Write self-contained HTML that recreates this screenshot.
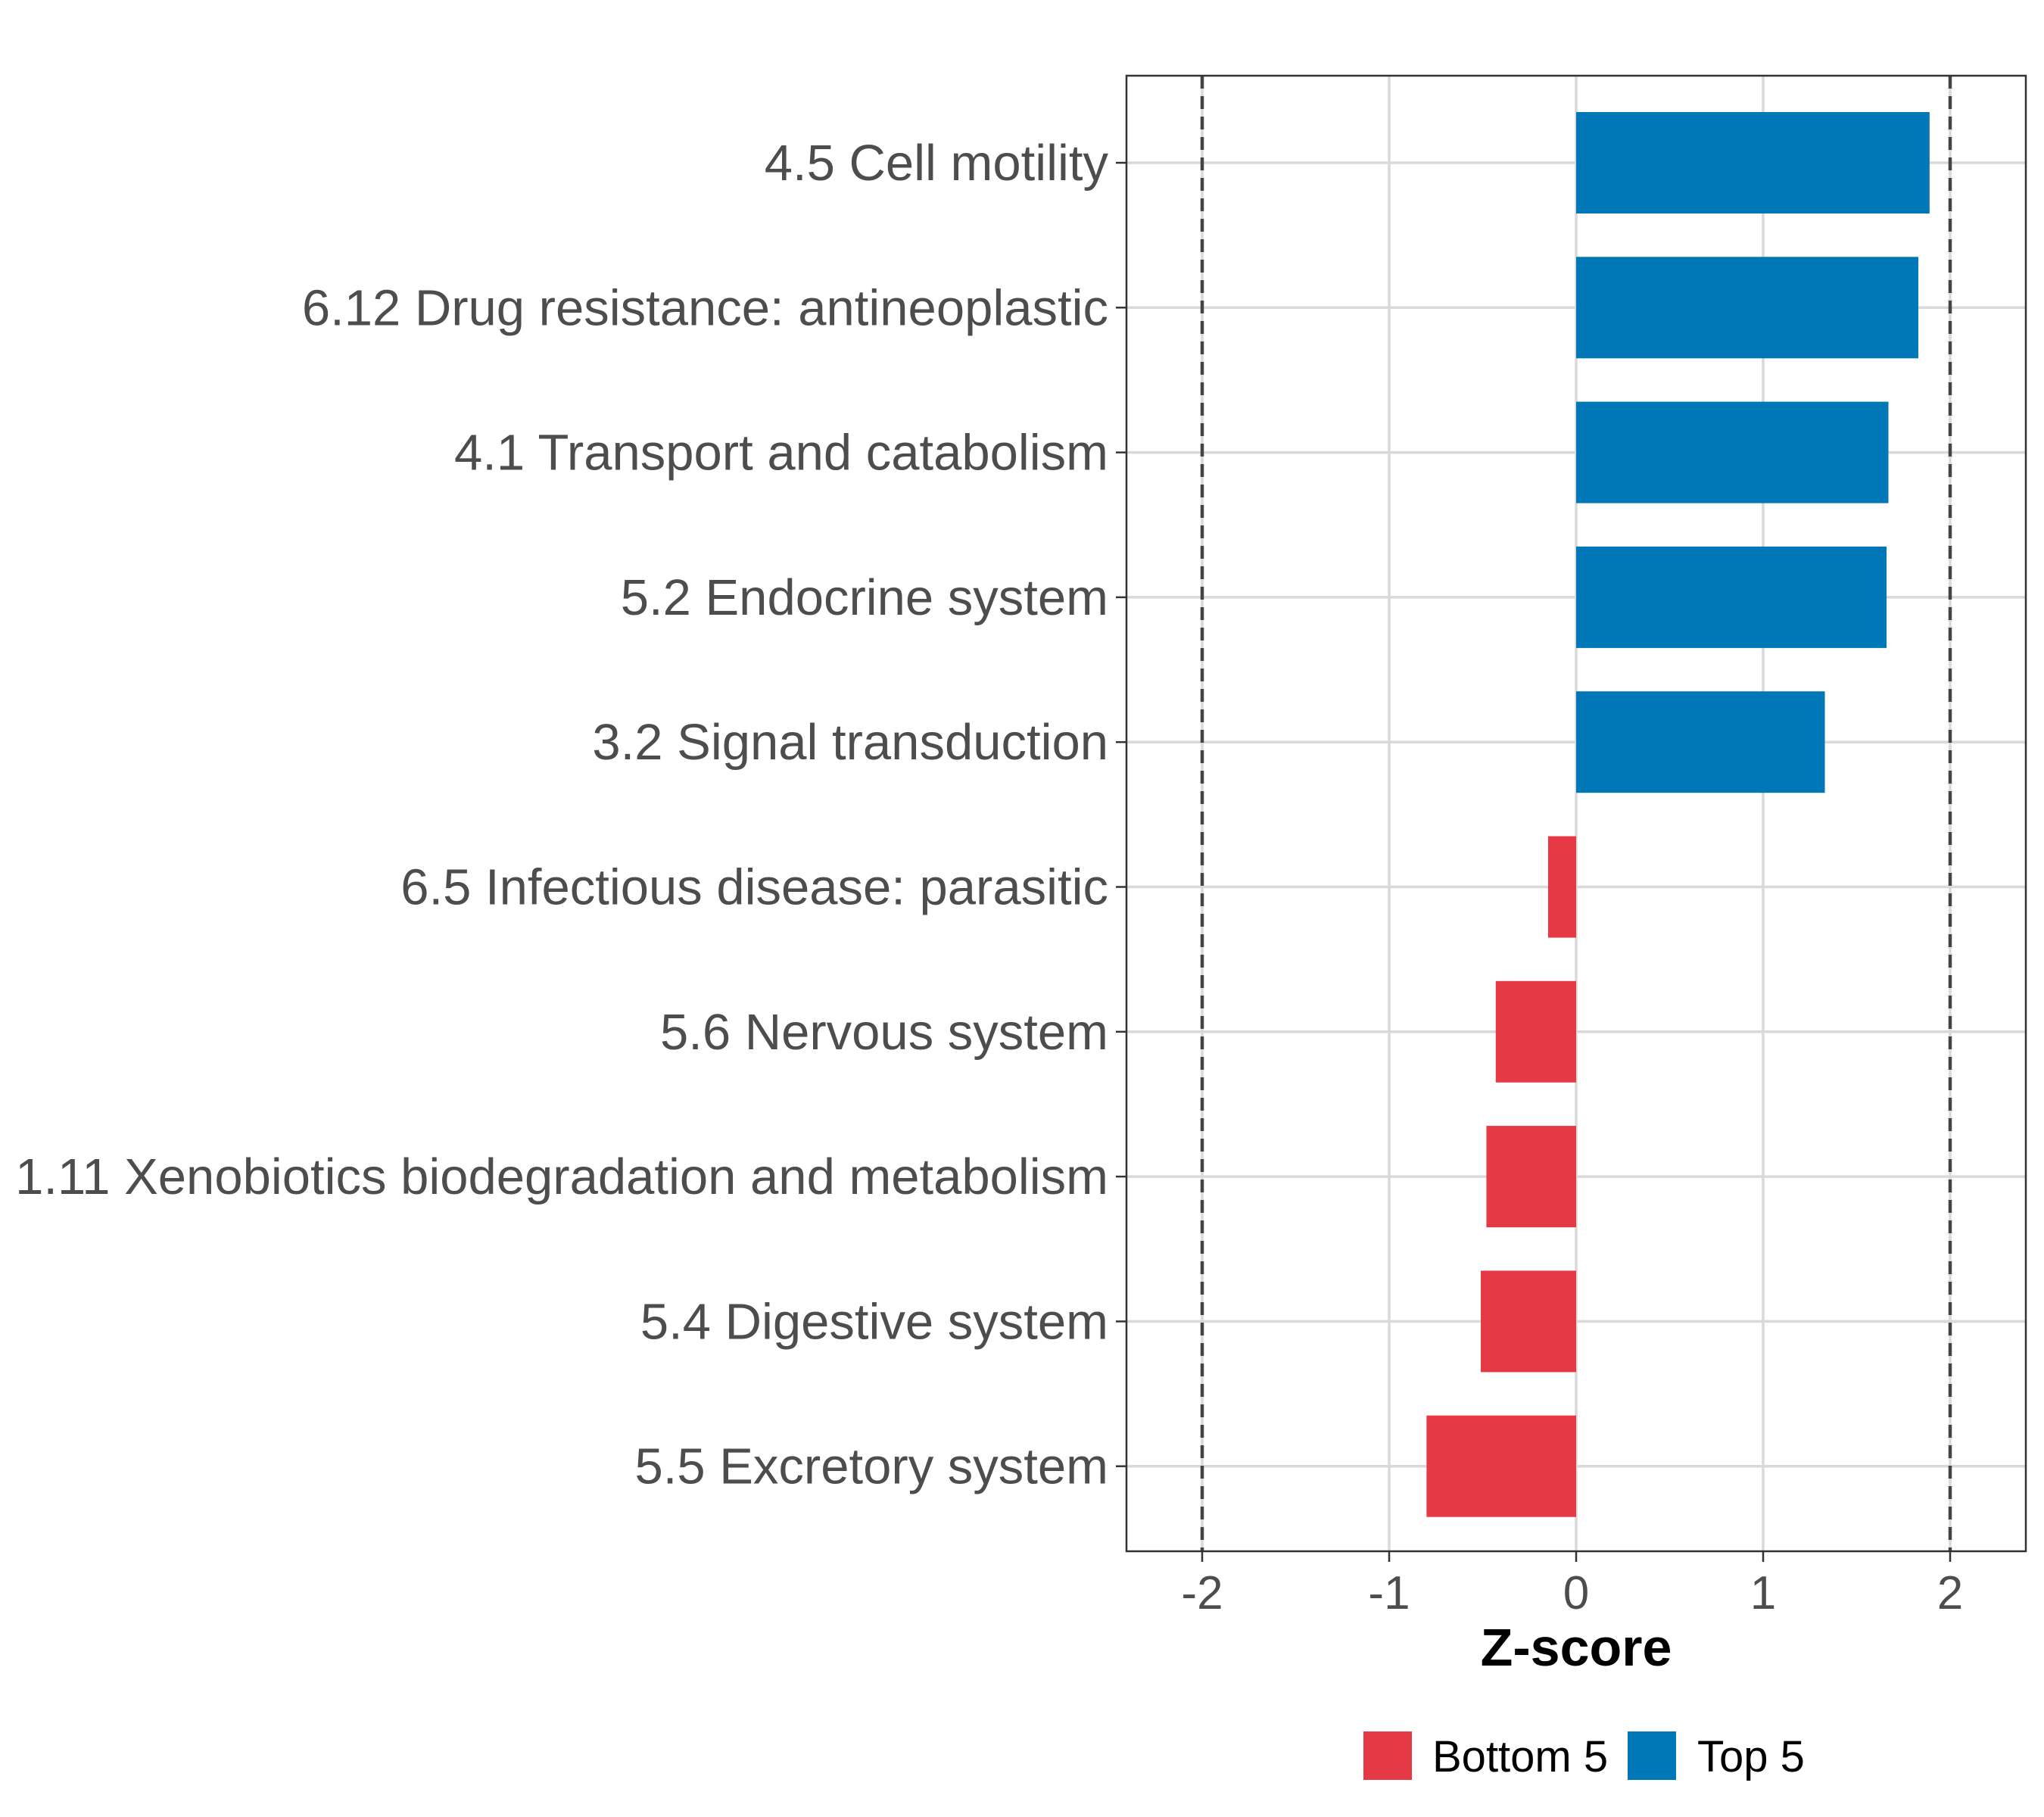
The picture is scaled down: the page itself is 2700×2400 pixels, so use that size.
<!DOCTYPE html>
<html><head><meta charset="utf-8"><style>
html,body{margin:0;padding:0;background:#fff;}
svg{display:block;font-family:"Liberation Sans",Arial,sans-serif;}
</style></head><body>
<svg id="chart" width="2700" height="2400" viewBox="0 0 2700 2400">
<g id="grid"></g>
<g id="bars"></g>
<g id="refs"></g>
<rect x="1488" y="100" width="1188" height="1949" fill="none" stroke="#333" stroke-width="2.5"/>
<g id="yaxis"></g>
<g id="xaxis"></g>
<text x="2082" y="2200" text-anchor="middle" font-size="70" font-weight="bold" fill="#000">Z-score</text>
<g>
<rect x="1801" y="2287" width="64" height="64" fill="#E63946"/>
<text x="1892" y="2340" font-size="58" fill="#000">Bottom 5</text>
<rect x="2150" y="2287" width="64" height="64" fill="#0077B6"/>
<text x="2242" y="2340" font-size="58" fill="#000">Top 5</text>
</g>
</svg>
<script>
const categories=["4.5 Cell motility","6.12 Drug resistance: antineoplastic","4.1 Transport and catabolism","5.2 Endocrine system","3.2 Signal transduction","6.5 Infectious disease: parasitic","5.6 Nervous system","1.11 Xenobiotics biodegradation and metabolism","5.4 Digestive system","5.5 Excretory system"];
const values=[1.89,1.83,1.67,1.66,1.33,-0.15,-0.43,-0.48,-0.51,-0.80];
const groups=["Top 5","Top 5","Top 5","Top 5","Top 5","Bottom 5","Bottom 5","Bottom 5","Bottom 5","Bottom 5"];
const xTicks=[-2,-1,0,1,2];
const refLines=[-2,2];
const NS="http://www.w3.org/2000/svg";
const X=v=>2082+v*247;
const Y=i=>215+i*191.3;
function mk(tag,attrs,parent){const e=document.createElementNS(NS,tag);for(const k in attrs)e.setAttribute(k,attrs[k]);parent.appendChild(e);return e;}
const grid=document.getElementById('grid'),bars=document.getElementById('bars'),refs=document.getElementById('refs'),ya=document.getElementById('yaxis'),xa=document.getElementById('xaxis');
xTicks.forEach(t=>{
 const l=mk('line',{x1:X(t),x2:X(t),y1:100,y2:2049,stroke:'#D9D9D9','stroke-width':3.5},grid);
 
 
 const tk=mk('line',{x1:X(t),x2:X(t),y1:2049,y2:2063,stroke:'#333','stroke-width':2.5},xa);
 
 
 const tx=mk('text',{x:X(t),y:2125,'text-anchor':'middle','font-size':62,fill:'#4D4D4D'},xa);
 tx.textContent=String(t);
 
 
});
categories.forEach((c,i)=>{
 const l=mk('line',{x1:1488,x2:2676,y1:Y(i),y2:Y(i),stroke:'#D9D9D9','stroke-width':3.5},grid);
 
 
 const v=values[i];
 const r=mk('rect',{x:Math.min(X(0),X(v)),y:Y(i)-67,width:Math.abs(X(v)-X(0)),height:134,fill:groups[i]==='Top 5'?'#0077B6':'#E63946'},bars);
 
 
 const tk=mk('line',{x1:1474,x2:1488,y1:Y(i),y2:Y(i),stroke:'#333','stroke-width':2.5},ya);
 
 
 const tx=mk('text',{x:1464,y:Y(i)+23,'text-anchor':'end','font-size':67,fill:'#4D4D4D'},ya);
 tx.textContent=c;
 
 
});
refLines.forEach(v=>{
 const l=mk('line',{x1:X(v),x2:X(v),y1:100,y2:2049,stroke:'#444','stroke-width':4.5,'stroke-dasharray':'17,10'},refs);
 
 
});
</script>
</body></html>
